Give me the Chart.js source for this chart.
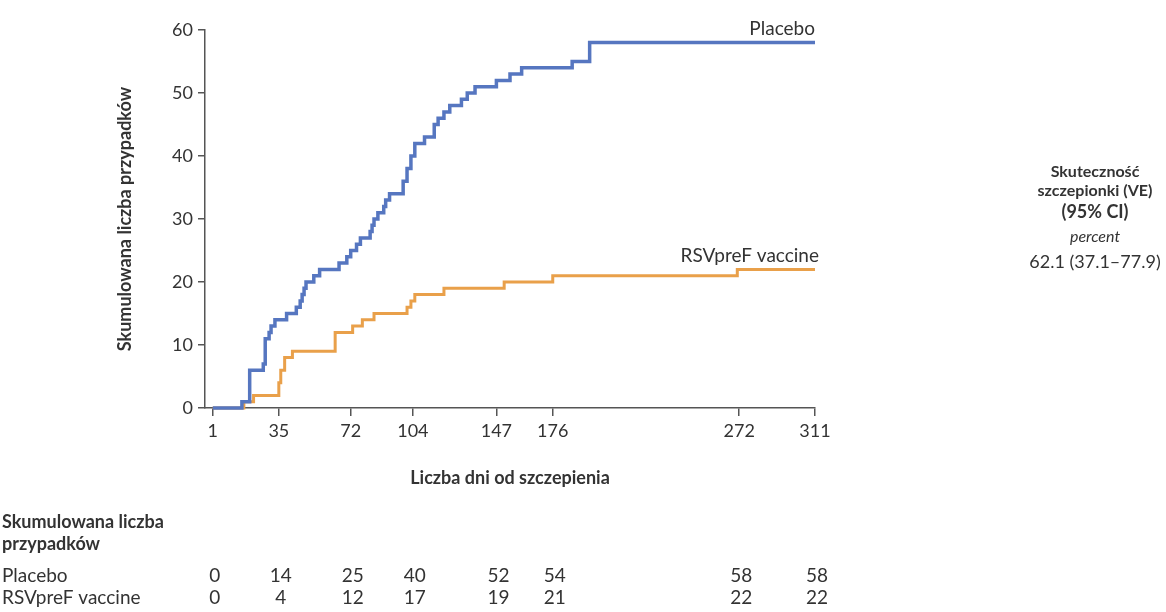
<!DOCTYPE html>
<html>
<head>
<meta charset="utf-8">
<script src="https://cdn.jsdelivr.net/npm/chart.js@4/dist/chart.umd.min.js"></script>
<style>
  html, body { margin: 0; padding: 0; background: #fff; }
  #wrap { width: 1166px; height: 612px; position: relative; }
</style>
</head>
<body>
<div id="wrap"><canvas id="kmChart"></canvas></div>
<script>
const tickDays = [1, 35, 72, 104, 147, 176, 272, 311];
const seriesNames = ['Placebo', 'RSVpreF vaccine'];

const placeboDays = [1, 16, 20, 27, 28, 30, 31, 33, 39, 44, 46, 47, 48, 49, 53, 56, 66, 70, 72, 75,
  77, 82, 83, 84, 86, 89, 90, 92, 99, 101, 103, 105, 110, 115, 117, 120, 123, 129, 132, 136,
  147, 154, 160, 186, 195, 311];
const placeboCases = [0, 1, 6, 7, 11, 12, 13, 14, 15, 16, 17, 18, 19, 20, 21, 22, 23, 24, 25, 26,
  27, 28, 29, 30, 31, 32, 33, 34, 36, 38, 40, 42, 43, 45, 46, 47, 48, 49, 50, 51,
  52, 53, 54, 55, 58, 58];

const vaccineDays = [1, 17, 22, 35, 36, 38, 42, 64, 73, 78, 84, 101, 103, 105, 120, 151, 176, 271, 311];
const vaccineCases = [0, 1, 2, 4, 6, 8, 9, 12, 13, 14, 15, 16, 17, 18, 19, 20, 21, 22, 22];

const tablePlacebo = [0, 14, 25, 40, 52, 54, 58, 58];
const tableVaccine = [0, 4, 12, 17, 19, 21, 22, 22];

const textColor = '#333';
const axisColor = '#555';
const font = 'Lato';

const toPoints = (days, cases) => days.map((d, i) => ({ x: d, y: cases[i] }));

// extra text: series labels, number-at-risk table, VE box
const extraText = {
  id: 'extraText',
  afterDraw(chart) {
    const { ctx, scales: { x, y } } = chart;
    ctx.save();
    ctx.fillStyle = textColor;
    ctx.textBaseline = 'middle';

    ctx.font = `19px ${font}`;
    ctx.textAlign = 'right';
    ctx.fillText(seriesNames[0], x.getPixelForValue(311), y.getPixelForValue(58) - 14);
    ctx.fillText(seriesNames[1], x.getPixelForValue(311) + 4, y.getPixelForValue(22) - 14);

    ctx.textAlign = 'left';
    ctx.font = `bold 18px ${font}`;
    ctx.fillText('Skumulowana liczba', 2, 522);
    ctx.fillText('przypadków', 2, 544);
    ctx.font = `19px ${font}`;
    ctx.fillText(seriesNames[0], 2, 576);
    ctx.fillText(seriesNames[1], 2, 598);

    ctx.textAlign = 'center';
    tickDays.forEach((d, i) => {
      const px = x.getPixelForValue(d) + 2;
      ctx.fillText(String(tablePlacebo[i]), px, 576);
      ctx.fillText(String(tableVaccine[i]), px, 598);
    });

    const cx = 1095;
    ctx.font = `bold 16px ${font}`;
    ctx.fillText('Skuteczność', cx, 172);
    ctx.fillText('szczepionki (VE)', cx, 191);
    ctx.font = `bold 18px ${font}`;
    ctx.fillText('(95% CI)', cx, 212);
    ctx.font = `italic 16px ${font}`;
    ctx.fillText('percent', cx, 237);
    ctx.font = `18px ${font}`;
    ctx.fillText('62.1 (37.1–77.9)', cx, 262);
    ctx.restore();
  }
};

new Chart(document.getElementById('kmChart'), {
  type: 'line',
  data: {
    datasets: [
      {
        label: seriesNames[0],
        data: toPoints(placeboDays, placeboCases),
        borderColor: '#5676c0',
        borderWidth: 3.5,
        stepped: true,
        pointRadius: 0,
        clip: false
      },
      {
        label: seriesNames[1],
        data: toPoints(vaccineDays, vaccineCases),
        borderColor: '#e9a04a',
        borderWidth: 3,
        stepped: true,
        pointRadius: 0,
        clip: false
      }
    ]
  },
  options: {
    responsive: true,
    maintainAspectRatio: false,
    animation: false,
    layout: { padding: { left: 0, right: 351, top: 30, bottom: 120 } },
    plugins: { legend: { display: false }, tooltip: { enabled: false } },
    scales: {
      x: {
        type: 'linear',
        min: -3,
        max: 311,
        afterBuildTicks: scale => { scale.ticks = tickDays.map(v => ({ value: v })); },
        afterFit: scale => { scale.height = 84; },
        grid: { drawOnChartArea: false, tickLength: 8, color: axisColor, lineWidth: 1.5 },
        border: { color: axisColor, width: 1.5 },
        ticks: { color: textColor, font: { family: font, size: 18 }, padding: 4, maxRotation: 0, autoSkip: false },
        title: {
          display: true,
          text: 'Liczba dni od szczepienia',
          color: textColor,
          font: { family: font, size: 18, weight: 'bold' },
          padding: { top: 0, bottom: 3 }
        }
      },
      y: {
        min: 0,
        max: 60,
        afterFit: scale => { scale.width = 205; },
        grid: { drawOnChartArea: false, tickLength: 7, color: axisColor, lineWidth: 1.5 },
        border: { color: axisColor, width: 1.5 },
        ticks: { stepSize: 10, color: textColor, font: { family: font, size: 18 }, padding: 5 },
        title: {
          display: true,
          text: 'Skumulowana liczba przypadków',
          color: textColor,
          font: { family: font, size: 18, weight: 'bold' },
          padding: { top: 114, bottom: 0 }
        }
      }
    }
  },
  plugins: [extraText]
});
</script>
</body>
</html>
